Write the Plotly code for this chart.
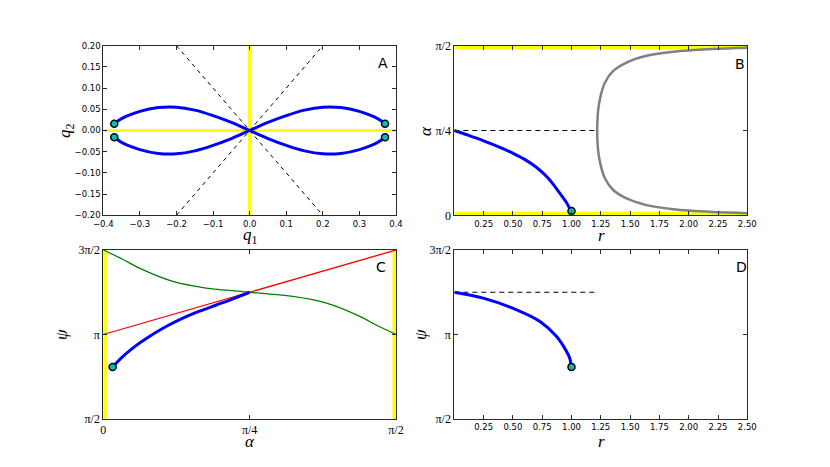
import plotly.graph_objects as go
import math

PI = math.pi

# ---------------- Panel A data (q1, q2) ----------------
lobe_q1 = [0.0, 0.05, 0.10, 0.15, 0.20, 0.25, 0.30, 0.35, 0.37]
lobe_q2 = [0.0, 0.019, 0.035, 0.048, 0.055, 0.054, 0.045, 0.028, 0.016]
diag_q1 = [-0.2, 0.2]
diag_q2 = [-0.2, 0.2]
endpoints_q1 = [-0.37, -0.37, 0.37, 0.37]
endpoints_q2 = [0.016, -0.016, 0.016, -0.016]

# ---------------- Panel B data (r, alpha) ----------------
b_blue_r = [0.0, 0.10, 0.25, 0.40, 0.50, 0.60, 0.70, 0.80, 0.90, 0.95, 0.98, 1.0]
b_blue_alpha = [0.785, 0.748, 0.690, 0.625, 0.575, 0.518, 0.445, 0.345, 0.205, 0.130, 0.075, 0.040]
b_gray_r = [2.5, 2.208, 1.867, 1.64, 1.47, 1.356, 1.285, 1.248, 1.228, 1.222, 1.219,
            1.222, 1.228, 1.248, 1.285, 1.356, 1.47, 1.64, 1.867, 2.208, 2.5]
b_gray_alpha = [1.551, 1.540, 1.515, 1.477, 1.415, 1.337, 1.228, 1.104, 0.979, 0.890, 0.785,
                0.680, 0.592, 0.467, 0.343, 0.234, 0.156, 0.094, 0.056, 0.031, 0.020]
b_dash_r = [0.0, 1.22]
b_dash_alpha = [PI / 4, PI / 4]
b_marker_r = [1.0]
b_marker_alpha = [0.040]

# ---------------- Panel C data (alpha, psi) ----------------
c_blue_alpha = [0.050, 0.086, 0.158, 0.247, 0.337, 0.427, 0.516, 0.606, 0.696, 0.785]
c_blue_psi = [2.536, 2.671, 2.888, 3.104, 3.290, 3.446, 3.575, 3.690, 3.805, 3.927]
c_red_alpha = [0.0, PI / 2]
c_red_psi = [PI, 3 * PI / 2]
c_green_alpha = [0.0, 0.104, 0.194, 0.373, 0.552, 0.785, 1.018, 1.198, 1.377, 1.467, 1.5708]
c_green_psi = [4.712, 4.541, 4.374, 4.127, 4.004, 3.927, 3.850, 3.727, 3.480, 3.313, 3.1416]
c_marker_alpha = [0.050]
c_marker_psi = [2.536]

# ---------------- Panel D data (r, psi) ----------------
d_blue_r = [0.0, 0.247, 0.532, 0.731, 0.873, 0.958, 0.985, 1.0]
d_blue_psi = [3.927, 3.818, 3.600, 3.383, 3.104, 2.825, 2.700, 2.536]
d_dash_r = [0.0, 1.22]
d_dash_psi = [5 * PI / 4, 5 * PI / 4]
d_marker_r = [1.0]
d_marker_psi = [2.536]

# tick labels
r_ticks = [0.25, 0.5, 0.75, 1.0, 1.25, 1.5, 1.75, 2.0, 2.25, 2.5]
alpha_tickvals = [0, PI / 4, PI / 2]
alpha_ticktext = ["0", "π/4", "π/2"]
psi_tickvals = [PI / 2, PI, 3 * PI / 2]
psi_ticktext = ["π/2", "π", "3π/2"]

BLUE = "#0000ff"
YELLOW = "#ffff00"
CYAN = "#00bfbf"
FRAME = "#2b2b2b"

fig = go.Figure()

def line(x, y, xa, ya, color, width, dash="solid", shape="spline", smoothing=0.8):
    fig.add_trace(go.Scatter(x=x, y=y, xaxis=xa, yaxis=ya, mode="lines",
                             line=dict(color=color, width=width, dash=dash, shape=shape,
                                       smoothing=smoothing),
                             showlegend=False, hoverinfo="skip"))

def markers(x, y, xa, ya):
    fig.add_trace(go.Scatter(x=x, y=y, xaxis=xa, yaxis=ya, mode="markers",
                             marker=dict(color=CYAN, size=7, line=dict(color="black", width=1.5)),
                             showlegend=False, cliponaxis=False, hoverinfo="skip"))

# ---- Panel A ----
line([-0.4, 0.4], [0, 0], "x", "y", YELLOW, 3, shape="linear")
line([0, 0], [-0.2, 0.2], "x", "y", YELLOW, 3, shape="linear")
line(diag_q1, diag_q2, "x", "y", "black", 1, dash="4px,4px", shape="linear")
line(diag_q1, [-v for v in diag_q2], "x", "y", "black", 1, dash="4px,4px", shape="linear")
# figure-eight: upper-left -> origin -> lower-right, and lower-left -> origin -> upper-right
fig_x1 = [-v for v in lobe_q1[::-1]] + lobe_q1[1:]
fig_y1 = lobe_q2[::-1] + [-v for v in lobe_q2[1:]]
fig_x2 = [-v for v in lobe_q1[::-1]] + lobe_q1[1:]
fig_y2 = [-v for v in lobe_q2[::-1]] + lobe_q2[1:]
line(fig_x1, fig_y1, "x", "y", BLUE, 3)
line(fig_x2, fig_y2, "x", "y", BLUE, 3)
markers(endpoints_q1, endpoints_q2, "x", "y")

# ---- Panel B ----
line([0, 2.5], [0, 0], "x2", "y2", YELLOW, 7, shape="linear")
line([0, 2.5], [PI / 2, PI / 2], "x2", "y2", YELLOW, 7, shape="linear")
line(b_dash_r, b_dash_alpha, "x2", "y2", "black", 1, dash="5px,4px", shape="linear")
line(b_gray_r, b_gray_alpha, "x2", "y2", "#808080", 2.5)
line(b_blue_r, b_blue_alpha, "x2", "y2", BLUE, 3, smoothing=1.0)
markers(b_marker_r, b_marker_alpha, "x2", "y2")

# ---- Panel C ----
line([0, 0], [PI / 2, 3 * PI / 2], "x3", "y3", YELLOW, 7, shape="linear")
line([PI / 2, PI / 2], [PI / 2, 3 * PI / 2], "x3", "y3", YELLOW, 7, shape="linear")
line(c_green_alpha, c_green_psi, "x3", "y3", "#008000", 1.3)
line(c_red_alpha, c_red_psi, "x3", "y3", "#ff0000", 1.3, shape="linear")
line(c_blue_alpha, c_blue_psi, "x3", "y3", BLUE, 3)
markers(c_marker_alpha, c_marker_psi, "x3", "y3")

# ---- Panel D ----
line(d_dash_r, d_dash_psi, "x4", "y4", "black", 1, dash="5px,4px", shape="linear")
line(d_blue_r, d_blue_psi, "x4", "y4", BLUE, 3)
markers(d_marker_r, d_marker_psi, "x4", "y4")

W, H = 830, 467
OFF = 8  # page body margin offset in the browser
def px(xp):
    return (xp - OFF) / W
def py(yp):
    return 1 - (yp - OFF) / H

dom_left = [px(103.3), px(396)]
dom_right = [px(454.3), px(747.3)]
dom_top = [py(215.3), py(45.7)]
dom_bot = [py(419), py(250)]

num_font = dict(family="DejaVu Sans", size=8.5, color="black")
pi_font = dict(family="Liberation Serif", size=12, color="black")

def ax(domain, anchor, rng, **kw):
    d = dict(domain=domain, anchor=anchor, range=rng, showgrid=False, zeroline=False,
             showline=True, linecolor=FRAME, linewidth=1, mirror="allticks",
             ticks="inside", ticklen=4, tickcolor=FRAME, tickwidth=0.8,
             automargin=False)
    d.update(kw)
    return d

layout = dict(
    width=W, height=H, autosize=False,
    margin=dict(l=0, r=0, t=0, b=0),
    paper_bgcolor="white", plot_bgcolor="white",
    xaxis=ax(dom_left, "y", [-0.4, 0.4], tickvals=[-0.4, -0.3, -0.2, -0.1, 0, 0.1, 0.2, 0.3, 0.4],
             tickformat=".1f", tickfont=num_font),
    yaxis=ax(dom_top, "x", [-0.2, 0.2], tickvals=[-0.2, -0.15, -0.1, -0.05, 0, 0.05, 0.1, 0.15, 0.2],
             tickformat=".2f", tickfont=num_font),
    xaxis2=ax(dom_right, "y2", [0, 2.5], tickvals=r_ticks, tickformat=".2f", tickfont=num_font),
    yaxis2=ax(dom_top, "x2", [0, PI / 2], tickvals=alpha_tickvals, ticktext=alpha_ticktext,
              tickfont=pi_font),
    xaxis3=ax(dom_left, "y3", [0, PI / 2], tickvals=alpha_tickvals, ticktext=alpha_ticktext,
              tickfont=pi_font),
    yaxis3=ax(dom_bot, "x3", [PI / 2, 3 * PI / 2], tickvals=psi_tickvals, ticktext=psi_ticktext,
              tickfont=pi_font),
    xaxis4=ax(dom_right, "y4", [0, 2.5], tickvals=r_ticks, tickformat=".2f", tickfont=num_font),
    yaxis4=ax(dom_bot, "x4", [PI / 2, 3 * PI / 2], tickvals=psi_tickvals, ticktext=psi_ticktext,
              tickfont=pi_font),
)
fig.update_layout(**layout)

label_font = dict(family="Liberation Serif", size=17, color="black")
letter_font = dict(family="DejaVu Sans", size=14, color="black")

def ann(text, x, y, font, angle=0, xanchor="center"):
    fig.add_annotation(text=text, x=px(x), y=py(y), xref="paper", yref="paper",
                       showarrow=False, font=font, textangle=angle, xanchor=xanchor,
                       yanchor="middle")

ann("<i>q</i><sub>1</sub>", 250, 236, label_font)
ann("<i>q</i><sub>2</sub>", 66, 131, label_font, angle=-90)
ann("<i>r</i>", 601, 235, label_font)
ann("<i>α</i>", 425, 131, label_font, angle=-90)
ann("<i>α</i>", 250, 441, label_font)
ann("<i>ψ</i>", 61, 335, label_font, angle=-90)
ann("<i>r</i>", 601, 441, label_font)
ann("<i>ψ</i>", 420, 335, label_font, angle=-90)

ann("A", 383, 63, letter_font)
ann("B", 740, 64, letter_font)
ann("C", 381, 267, letter_font)
ann("D", 741, 267, letter_font)

fig.write_html("out.html")
